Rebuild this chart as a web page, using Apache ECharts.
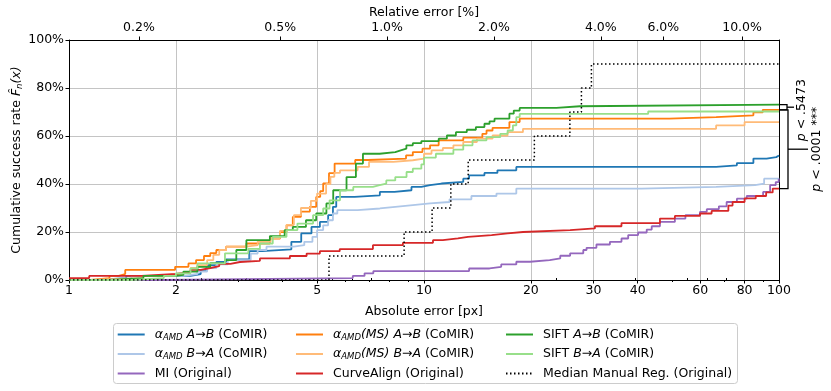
<!DOCTYPE html>
<html><head><meta charset="utf-8">
<script src="https://cdn.jsdelivr.net/npm/echarts@6/dist/echarts.min.js"></script>
<style>html,body{margin:0;padding:0;background:#fff}#c{width:831px;height:391px}</style>
</head><body><div id="c"></div>
<script>
// ---------- data ----------
const PX_PER_PERCENT = 7.87;            // absolute px per 1 % relative error
const bottomMajor = [1, 2, 5, 10, 20, 30, 40, 60, 80, 100];
const bottomMinor = [3, 4, 6, 7, 8, 9, 50, 70, 90];
const topMajor = [0.2, 0.5, 1, 2, 4, 6, 10];
const topMinor = [0.3, 0.4, 0.6, 0.7, 0.8, 0.9, 3, 5, 7, 8, 9];

const amdAB = [[1,0],[1.19,0.8],[1.45,1.7],[2.2,2.5],[2.35,4.2],[2.44,6.2],[2.6,7.5],[2.77,8.6],[3.22,12.0],[3.5,12.8],[4.23,15.9],[4.51,19.4],[4.82,22.1],[5.09,24.2],[5.37,27.0],[5.54,30.5],[5.66,34.6],[6.38,35.3],[7.51,36.7],[8.26,37.4],[9.22,38.8],[9.83,39.5],[10.4,40.2],[11.2,40.9],[12.9,42.2],[13.4,43.6],[14.8,44.6],[16.1,45.7],[18.2,47.1],[66.5,47.8],[76.1,48.7],[84.7,50.6],[92.3,51.2],[98.2,51.9],[100,51.9]];
const amdBA = [[1,0],[1.3,0.8],[1.5,1.7],[2.1,2.5],[2.3,3.5],[2.45,5.0],[2.6,6.5],[2.8,8.3],[3.25,11.0],[3.4,12.5],[3.6,13.9],[4.3,14.5],[4.6,15.9],[4.85,18.0],[5.0,20.8],[5.2,22.8],[5.37,24.9],[5.54,27.7],[5.7,29.1],[6.5,29.8],[7.51,30.5],[8.3,31.2],[9.3,31.9],[10.4,32.5],[11.8,33.6],[13.6,35.0],[16.0,36.0],[18.2,38.1],[41.0,38.8],[66.5,39.5],[85.6,40.2],[90.8,42.2],[99.6,42.6],[100,42.6]];
const miOrig = [[1,0],[1.8,0.8],[6.3,1.7],[6.8,2.8],[7.2,3.7],[13.4,4.8],[15.3,5.5],[16.5,6.5],[18.2,7.6],[19.9,8.3],[22.6,9.0],[24.2,10.1],[25.8,11.1],[28.1,12.5],[28.7,13.4],[30.6,14.8],[33.4,15.9],[36.0,17.3],[37.6,18.7],[40.1,19.8],[42.4,21.0],[43.8,22.4],[46.2,24.2],[50.9,25.6],[54.5,27.0],[59.9,28.4],[62.6,29.5],[67.7,30.7],[71.2,32.5],[76.1,33.9],[81.1,35.0],[90.2,36.7],[94.4,39.5],[97.9,40.8],[99.8,42.2],[100,42.2]];
const msAB = [[1,0],[1.15,0.8],[1.3,1.7],[1.38,2.5],[1.44,4.2],[1.99,5.5],[2.17,6.9],[2.28,8.3],[2.4,10.0],[2.5,11.2],[2.6,12.5],[2.77,13.9],[3.16,15.2],[3.68,17.3],[3.93,20.0],[4.1,22.8],[4.27,26.3],[4.5,28.5],[4.77,30.5],[4.97,34.6],[5.1,37.0],[5.2,40.2],[5.4,44.5],[5.6,48.5],[6.4,50.0],[6.95,50.6],[8.9,51.9],[9.3,53.3],[9.9,54.7],[10.4,56.1],[11.0,58.2],[12.9,59.3],[14.6,60.9],[15.0,62.3],[15.6,63.4],[17.4,65.8],[18.6,67.2],[49.1,67.9],[66.5,68.6],[84.7,69.9],[90.0,70.9],[100,70.9]];
const msBA = [[1,0],[1.14,0.8],[1.6,1.7],[1.85,2.5],[2.0,2.8],[2.1,3.5],[2.2,5.0],[2.3,6.2],[2.45,8.3],[2.55,10.5],[2.65,12.5],[2.77,13.9],[3.16,14.5],[3.4,16.0],[3.7,17.5],[3.93,20.5],[4.1,23.0],[4.3,27.0],[4.5,30.0],[4.8,33.0],[5.0,36.0],[5.3,40.0],[5.45,43.0],[5.59,44.6],[5.8,45.7],[6.5,47.1],[7.0,49.2],[8.2,49.9],[9.3,50.6],[10.0,52.6],[10.5,54.0],[11.3,55.0],[12.1,56.1],[12.9,57.5],[14.1,58.9],[15.6,60.2],[17.2,61.6],[19.0,63.0],[66.5,64.4],[80.0,65.8],[100,65.8]];
const curveAlign = [[1,0.8],[1.14,1.7],[1.6,2.5],[2.0,3.3],[2.2,4.2],[2.35,5.0],[2.5,5.8],[2.65,6.7],[2.85,7.5],[3.03,8.0],[3.45,9.0],[4.19,10.0],[4.67,11.0],[5.09,12.0],[5.79,12.9],[7.18,14.5],[8.72,15.5],[10.6,16.6],[11.3,17.3],[12.46,18.0],[13.3,18.7],[15.5,19.4],[17.2,20.0],[19.0,20.8],[25.8,21.5],[30.3,22.4],[36.0,23.7],[46.2,25.6],[50.9,26.7],[59.9,27.7],[64.6,28.8],[72.0,31.0],[74.0,32.5],[80.0,34.0],[86.0,35.0],[92.0,36.5],[96.0,38.1],[100,38.1]];
const siftAB = [[1,0],[1.3,0.8],[1.62,1.7],[2.0,2.1],[2.1,3.5],[2.3,5.5],[2.5,7.0],[2.75,8.3],[2.96,12.5],[3.16,16.6],[3.68,18.3],[4.05,20.8],[4.27,22.1],[4.65,24.9],[4.97,27.7],[5.31,31.9],[5.55,37.4],[6.05,42.9],[6.43,48.5],[6.73,52.6],[7.5,53.3],[8.3,54.0],[8.6,54.7],[8.92,56.1],[9.3,57.0],[9.83,57.9],[11.0,58.9],[11.6,60.2],[12.3,61.6],[13.2,62.6],[14.0,63.7],[14.8,65.1],[15.3,66.1],[15.8,67.2],[17.4,69.3],[17.9,70.6],[18.6,71.7],[23.6,72.4],[27.5,73.1],[100,73.1]];
const siftBA = [[1,0],[1.5,0.8],[1.85,1.7],[2.0,2.8],[2.2,4.8],[2.3,6.9],[2.75,11.1],[3.2,13.0],[3.45,15.2],[3.75,18.0],[4.1,20.8],[4.4,23.5],[4.87,27.0],[5.2,29.8],[5.42,33.2],[5.8,37.4],[6.32,38.8],[7.18,39.5],[7.5,40.2],[7.83,41.5],[8.3,42.9],[8.93,45.0],[9.3,46.4],[9.83,48.2],[10.0,51.0],[10.8,52.6],[12.1,54.3],[12.9,56.1],[13.7,58.2],[15.0,59.5],[16.4,60.9],[17.2,62.3],[17.8,64.4],[18.2,67.9],[18.6,69.2],[42.8,70.2],[100,70.2]];
const medianManual = [[1,0],[5.40,10],[8.79,20],[10.54,30],[11.9,40],[13.32,50],[20.46,60],[25.76,70],[27.76,80],[29.62,90],[100,90]];

const pValues = ['.5473', '.0001 ***'];

// ---------- chart ----------
const FONT = 'DejaVu Sans';
const rich = {
  i: {fontStyle: 'italic', fontFamily: FONT, fontSize: 12.5, color: '#000', lineHeight: 15},
  s: {fontStyle: 'italic', fontFamily: FONT, fontSize: 8.5, color: '#000', verticalAlign: 'bottom', lineHeight: 9}
};
const labels = {
  amdAB: '{i|α}{s|AMD} {i|A→B} (CoMIR)',
  amdBA: '{i|α}{s|AMD} {i|B→A} (CoMIR)',
  mi: 'MI (Original)',
  msAB: '{i|α}{s|AMD}{i|(MS) A→B} (CoMIR)',
  msBA: '{i|α}{s|AMD}{i|(MS) B→A} (CoMIR)',
  curve: 'CurveAlign (Original)',
  siftAB: 'SIFT {i|A→B} (CoMIR)',
  siftBA: 'SIFT {i|B→A} (CoMIR)',
  median: 'Median Manual Reg. (Original)'
};

function mk(name, data, color, extra) {
  return Object.assign({
    name, type: 'line', data, step: 'end', symbol: 'none', showSymbol: false, xAxisIndex: 0, yAxisIndex: 0,
    lineStyle: {color, width: 1.8}, itemStyle: {color}, animation: false
  }, extra || {});
}
const series = [
  mk('amdAB', amdAB, '#1f77b4'),
  mk('amdBA', amdBA, '#aec7e8'),
  mk('mi', miOrig, '#9467bd'),
  mk('msAB', msAB, '#ff7f0e'),
  mk('msBA', msBA, '#ffbb78'),
  mk('curve', curveAlign, '#d62728'),
  mk('siftAB', siftAB, '#2ca02c'),
  mk('siftBA', siftBA, '#98df8a'),
  mk('median', medianManual, '#000', {lineStyle: {color: '#000', width: 1.5, type: [1.5, 2.5]}})
];

const tickStyle = {color: '#000', width: 1};
const lblStyle = {fontFamily: FONT, fontSize: 12.5, color: '#000'};
function legendCol(left, names) {
  return {
    orient: 'vertical', left, top: 327, padding: 0, itemWidth: 27, itemHeight: 14, itemGap: 4.5,
    data: names, formatter: n => labels[n],
    itemStyle: {opacity: 0, borderWidth: 0},
    textStyle: Object.assign({}, lblStyle, {lineHeight: 15, padding: [0, 0, 0, 5], rich}),
    selectedMode: false
  };
}

const option = {
  animation: false,
  backgroundColor: '#fff',
  grid: {left: 69, right: 52, top: 40, bottom: 111, containLabel: false, outerBoundsMode: 'none'},
  xAxis: [
    {type: 'log', logBase: 10, min: 1, max: 100, position: 'bottom',
     name: 'Absolute error [px]', nameLocation: 'middle', nameGap: 25, nameMoveOverlap: false, nameTextStyle: lblStyle,
     axisLine: {show: true, onZero: false, lineStyle: tickStyle},
     axisTick: {show: true, customValues: bottomMajor, length: 3.5, lineStyle: tickStyle},
     axisLabel: {customValues: bottomMajor, margin: 4, ...lblStyle, formatter: v => String(Math.round(v * 1000) / 1000)},
     splitLine: {show: true, customValues: bottomMajor, lineStyle: {color: '#c4c4c4', width: 1}},
     minorTick: {show: false}, minorSplitLine: {show: false}},
    {type: 'log', logBase: 10, min: 1, max: 100, position: 'bottom',
     axisLine: {show: false}, axisLabel: {show: false}, splitLine: {show: false},
     axisTick: {show: true, customValues: bottomMinor, length: 2, lineStyle: tickStyle}},
    {type: 'log', logBase: 10, min: 1 / PX_PER_PERCENT, max: 100 / PX_PER_PERCENT, position: 'top',
     name: 'Relative error [%]', nameLocation: 'middle', nameGap: 21, nameMoveOverlap: false, nameTextStyle: lblStyle,
     axisLine: {show: true, onZero: false, lineStyle: tickStyle},
     axisTick: {show: true, customValues: topMajor, length: 3.5, lineStyle: tickStyle},
     axisLabel: {customValues: topMajor, margin: 6, ...lblStyle, formatter: v => v.toFixed(1) + '%'},
     splitLine: {show: false}},
    {type: 'log', logBase: 10, min: 1 / PX_PER_PERCENT, max: 100 / PX_PER_PERCENT, position: 'top',
     axisLine: {show: false}, axisLabel: {show: false}, splitLine: {show: false},
     axisTick: {show: true, customValues: topMinor, length: 2, lineStyle: tickStyle}}
  ],
  yAxis: [
    {type: 'value', min: 0, max: 100, interval: 20, position: 'left',
     name: 'Cumulative success rate {i|F\u0302}{s|n}{i|(x)}', nameLocation: 'middle', nameGap: 45, nameMoveOverlap: false,
     nameTextStyle: Object.assign({}, lblStyle, {lineHeight: 15, rich}),
     axisLine: {show: true, lineStyle: tickStyle},
     axisTick: {show: true, length: 3.5, lineStyle: tickStyle},
     axisLabel: {margin: 5, ...lblStyle, formatter: '{value}%'},
     splitLine: {show: true, lineStyle: {color: '#c4c4c4', width: 1}}},
    {type: 'value', min: 0, max: 100, position: 'right',
     axisLine: {show: true, lineStyle: tickStyle}, axisTick: {show: false}, axisLabel: {show: false}, splitLine: {show: false}}
  ],
  legend: [
    legendCol(116.7, ['amdAB', 'amdBA', 'mi']),
    legendCol(295, ['msAB', 'msBA', 'curve']),
    legendCol(505, ['siftAB', 'siftBA', 'median'])
  ],
  series
};

const chart = echarts.init(document.getElementById('c'), null, {renderer: 'canvas'});
chart.setOption(option);

// legend frame + significance brackets, positioned through the chart's scales
const last = a => a[a.length - 1];
const p1 = chart.convertToPixel({seriesIndex: 6}, last(siftAB));
const p2 = chart.convertToPixel({seriesIndex: 3}, last(msAB));
const p3 = chart.convertToPixel({seriesIndex: 5}, last(curveAlign));
const xr = p1[0];
const m1 = (p1[1] + p2[1]) / 2, m2 = (p2[1] + p3[1]) / 2;
const ln = {stroke: '#000', lineWidth: 1.3, fill: null};
chart.setOption({graphic: [
  {type: 'rect', z: 0, shape: {x: 113.5, y: 323.5, width: 624, height: 60, r: 3},
   style: {fill: 'rgba(255,255,255,0.8)', stroke: '#cccccc', lineWidth: 1}},
  {type: 'polyline', shape: {points: [[xr, p1[1]], [xr + 8, p1[1]], [xr + 8, p2[1]], [xr, p2[1]]]}, style: ln},
  {type: 'polyline', shape: {points: [[xr + 8, m1], [xr + 15, m1]]}, style: ln},
  {type: 'polyline', shape: {points: [[xr, p2[1]], [xr + 9, p2[1]], [xr + 9, p3[1]], [xr, p3[1]]]}, style: ln},
  {type: 'polyline', shape: {points: [[xr + 9, m2], [xr + 29, m2]]}, style: ln},
  {type: 'text', x: xr + 23, y: m1 + 3, rotation: Math.PI / 2,
   style: {text: '{i|p} < ' + pValues[0], fontFamily: FONT, fontSize: 12.5, fill: '#000', align: 'center', verticalAlign: 'middle', rich}},
  {type: 'text', x: xr + 38, y: m2, rotation: Math.PI / 2,
   style: {text: '{i|p} < ' + pValues[1], fontFamily: FONT, fontSize: 12.5, fill: '#000', align: 'center', verticalAlign: 'middle', rich}}
]});
</script>
</body></html>
